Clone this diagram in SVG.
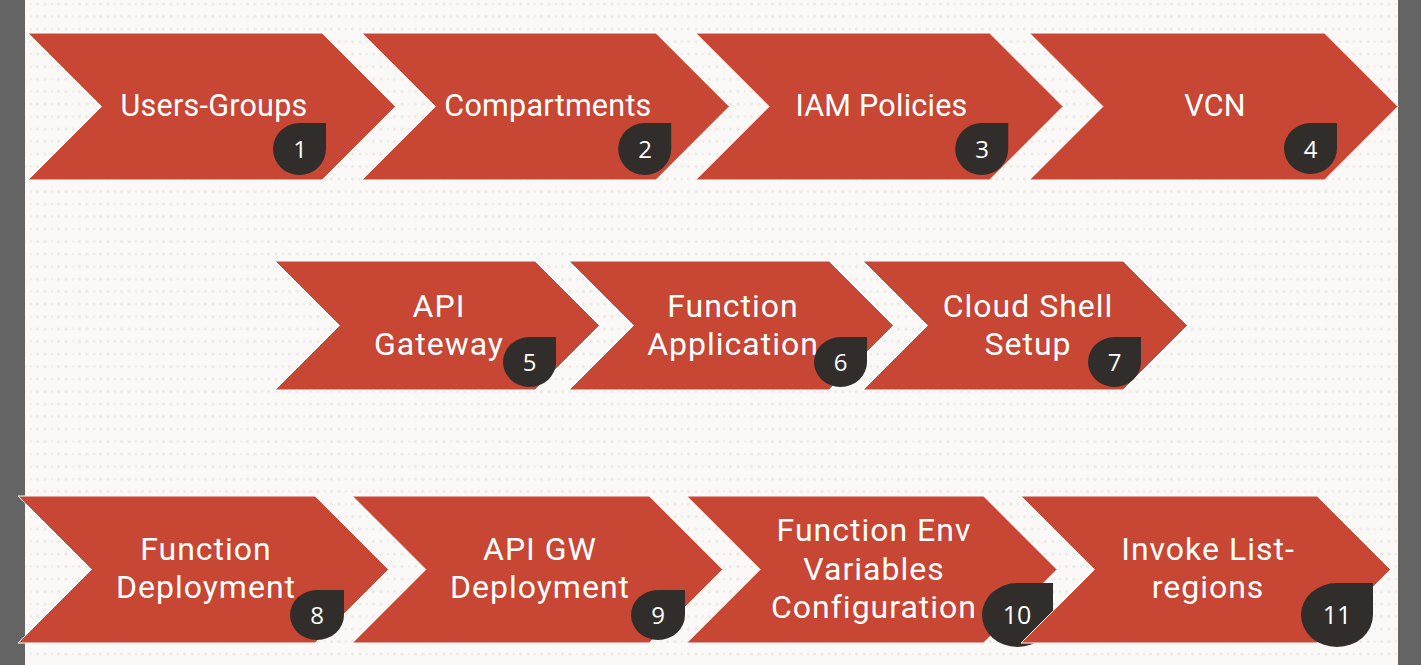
<svg xmlns="http://www.w3.org/2000/svg" width="1421" height="665" viewBox="0 0 1421 665">
<defs>
<pattern id="dots" x="0" y="0" width="21" height="12.5" patternUnits="userSpaceOnUse">
<circle cx="3" cy="4" r="1.7" fill="#ECEAE6"/>
<circle cx="10" cy="4" r="1.3" fill="#EFEDE9"/>
<circle cx="16.5" cy="4" r="1.6" fill="#ECEAE6"/>
</pattern>
<style>
.chev{fill:#C74634;stroke:#FFFFFF;stroke-width:1}
.badge{fill:#312D2A}
.lbl{font-family:Roboto,"Open Sans",sans-serif;fill:#FFFFFF;text-anchor:middle}
.l1{font-size:30.5px;letter-spacing:0.25px}
.l2{font-size:32px;letter-spacing:1px}
.num{font-family:"Open Sans","Noto Sans",sans-serif;fill:#FFFFFF;text-anchor:middle;font-size:24px}
.numb{font-size:25px}
</style>
</defs>
<rect x="0" y="0" width="1421" height="665" fill="#646464"/>
<rect x="25" y="0" width="1373" height="665" fill="#FAF9F7"/>
<rect x="25" y="0" width="1373" height="665" fill="url(#dots)"/>

<g id="connectors"></g>

<!-- Row 1 -->
<g id="node1">
<path class="chev" d="M28,33 H322 L395.5,106.5 L322,180 H28 L101.5,106.5 Z"/>
<text class="lbl l1" x="214" y="116">Users-Groups</text>
<path class="badge" d="M299.5,123 H326 V149 A26.5,26 0 0 1 299.5,175 A26.5,26 0 0 1 273,149 A26.5,26 0 0 1 299.5,123 Z"/>
<text class="num" x="300" y="158">1</text>
</g>
<g id="node2">
<path class="chev" d="M361.8,33 H655.8 L729.3,106.5 L655.8,180 H361.8 L435.3,106.5 Z"/>
<text class="lbl l1" x="548" y="116">Compartments</text>
<path class="badge" d="M644.7,123 H671.2 V149 A26.5,26 0 0 1 644.7,175 A26.5,26 0 0 1 618.2,149 A26.5,26 0 0 1 644.7,123 Z"/>
<text class="num" x="645" y="158">2</text>
</g>
<g id="node3">
<path class="chev" d="M695.6,33 H989.6 L1063.1,106.5 L989.6,180 H695.6 L769.1,106.5 Z"/>
<text class="lbl l1" x="881.5" y="116">IAM Policies</text>
<path class="badge" d="M981.7,123 H1008.2 V149 A26.5,26 0 0 1 981.7,175 A26.5,26 0 0 1 955.2,149 A26.5,26 0 0 1 981.7,123 Z"/>
<text class="num" x="982" y="158">3</text>
</g>
<g id="node4">
<path class="chev" d="M1029.4,33 H1324.5 L1398,106.5 L1324.5,180 H1029.4 L1102.9,106.5 Z"/>
<text class="lbl l1" x="1215" y="116">VCN</text>
<path class="badge" d="M1310.5,123 H1337 V148.5 A26.5,25.5 0 0 1 1310.5,174 A26.5,25.5 0 0 1 1284,148.5 A26.5,25.5 0 0 1 1310.5,123 Z"/>
<text class="num" x="1310.5" y="157.5">4</text>
</g>

<!-- Row 2 -->
<g id="node5">
<path class="chev" d="M275,261 H535 L599.5,325.5 L535,390 H275 L339.5,325.5 Z"/>
<text class="lbl l2" x="439" y="317">API</text>
<text class="lbl l2" x="439" y="355">Gateway</text>
<path class="badge" d="M529.5,337 H556 V362 A26.5,25 0 0 1 529.5,387 A26.5,25 0 0 1 503,362 A26.5,25 0 0 1 529.5,337 Z"/>
<text class="num" x="529.5" y="371">5</text>
</g>
<g id="node6">
<path class="chev" d="M569,261 H829 L893.5,325.5 L829,390 H569 L633.5,325.5 Z"/>
<text class="lbl l2" x="733" y="317">Function</text>
<text class="lbl l2" x="733" y="355">Application</text>
<path class="badge" d="M840.5,337 H867 V362 A26.5,25 0 0 1 840.5,387 A26.5,25 0 0 1 814,362 A26.5,25 0 0 1 840.5,337 Z"/>
<text class="num" x="840.5" y="371">6</text>
</g>
<g id="node7">
<path class="chev" d="M863,261 H1123 L1187.5,325.5 L1123,390 H863 L927.5,325.5 Z"/>
<text class="lbl l2" x="1028" y="317">Cloud Shell</text>
<text class="lbl l2" x="1028" y="355">Setup</text>
<path class="badge" d="M1114.5,337 H1141 V362 A26.5,25 0 0 1 1114.5,387 A26.5,25 0 0 1 1088,362 A26.5,25 0 0 1 1114.5,337 Z"/>
<text class="num" x="1114.5" y="371">7</text>
</g>

<!-- Row 3 -->
<g id="node8">
<path class="chev" d="M18,496 H315 L388.5,569.5 L315,643 H18 L91.5,569.5 Z"/>
<text class="lbl l2" x="206" y="560">Function</text>
<text class="lbl l2" x="206" y="598">Deployment</text>
<path class="badge" d="M317,590 H344 V615 A27,25 0 0 1 317,640 A27,25 0 0 1 290,615 A27,25 0 0 1 317,590 Z"/>
<text class="num" x="317" y="624">8</text>
</g>
<g id="node9">
<path class="chev" d="M352.3,496 H649.3 L722.8,569.5 L649.3,643 H352.3 L425.8,569.5 Z"/>
<text class="lbl l2" x="540" y="560">API GW</text>
<text class="lbl l2" x="540" y="598">Deployment</text>
<path class="badge" d="M658,590 H685 V615 A27,25 0 0 1 658,640 A27,25 0 0 1 631,615 A27,25 0 0 1 658,590 Z"/>
<text class="num" x="658" y="624">9</text>
</g>
<g id="node10">
<path class="chev" d="M686.6,496 H983.6 L1057.1,569.5 L983.6,643 H686.6 L760.1,569.5 Z"/>
<text class="lbl l2" x="874" y="541">Function Env</text>
<text class="lbl l2" x="874" y="579.5">Variables</text>
<text class="lbl l2" x="874" y="618">Configuration</text>
<path class="badge" d="M1017.5,583 H1053 V615 A35.5,32 0 0 1 1017.5,647 A35.5,32 0 0 1 982,615 A35.5,32 0 0 1 1017.5,583 Z"/>
<text class="num numb" x="1017" y="624">10</text>
</g>
<g id="node11">
<path class="chev" d="M1021,496 H1317 L1390.5,569.5 L1317,643 H1021 L1094.5,569.5 Z"/>
<text class="lbl l2" x="1208" y="560">Invoke List-</text>
<text class="lbl l2" x="1208" y="598">regions</text>
<path class="badge" d="M1337,583 H1373 V615 A36,32 0 0 1 1337,647 A36,32 0 0 1 1301,615 A36,32 0 0 1 1337,583 Z"/>
<text class="num numb" x="1337" y="624">11</text>
</g>
</svg>
